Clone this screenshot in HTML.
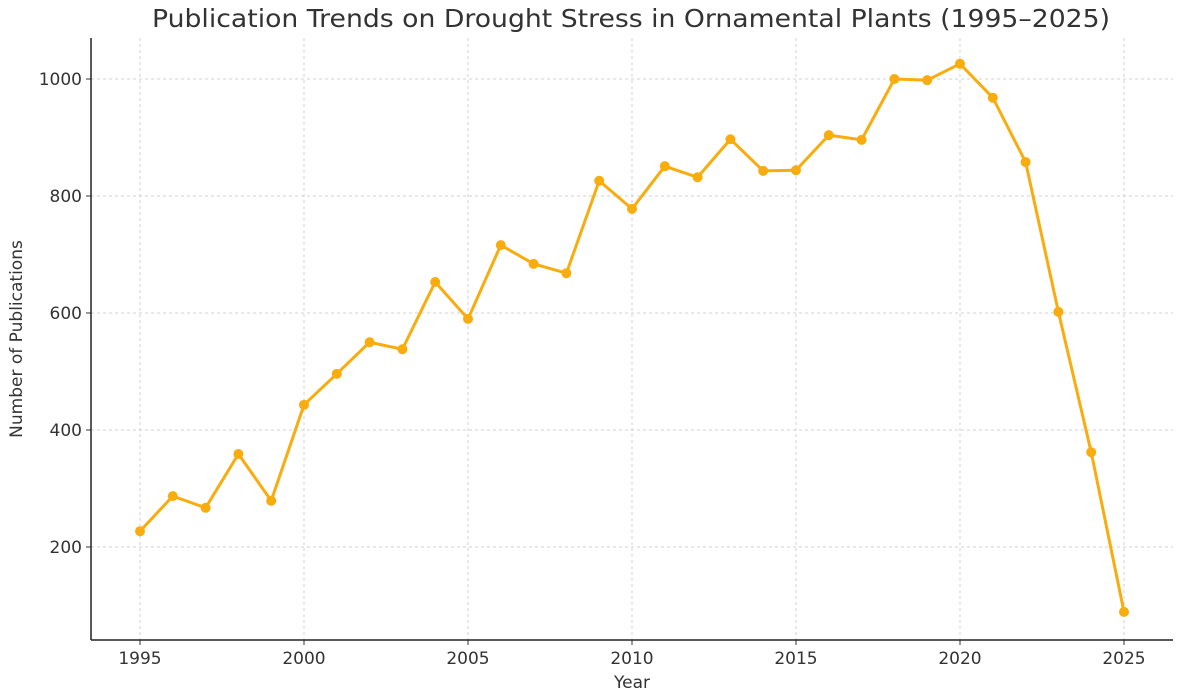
<!DOCTYPE html>
<html><head><meta charset="utf-8"><style>
html,body{margin:0;padding:0;background:#fff;}
svg text{font-family:"DejaVu Sans","Liberation Sans",sans-serif;fill:#333;}
</style></head><body>
<svg id="chart" width="1181" height="695" viewBox="0 0 1181 695">
<text x="631" y="27" text-anchor="middle" font-size="25" textLength="958" lengthAdjust="spacingAndGlyphs">Publication Trends on Drought Stress in Ornamental Plants (1995–2025)</text>
<g id="grid"></g><g id="axes"></g><g id="series"></g>
<text x="632" y="688" text-anchor="middle" font-size="17">Year</text>
<text transform="translate(22,339) rotate(-90)" text-anchor="middle" font-size="17">Number of Publications</text>
</svg>
<script>
const years=[1995,1996,1997,1998,1999,2000,2001,2002,2003,2004,2005,2006,2007,2008,2009,2010,2011,2012,2013,2014,2015,2016,2017,2018,2019,2020,2021,2022,2023,2024,2025];
const publications=[227,287,267,359,279,443,496,550,538,653,590,716,684,668,826,778,851,832,897,843,844,904,896,1000,998,1026,968,858,602,362,89];
const xTicks=[1995,2000,2005,2010,2015,2020,2025];
const yTicks=[200,400,600,800,1000];
const NS="http://www.w3.org/2000/svg";
const L=91,R=1173,T=38,B=640;
function xs(v){return 140+(v-1995)*(1124-140)/30;}
function ys(v){return 547-(v-200)*0.585;}
function mk(tag,attrs,parent){const e=document.createElementNS(NS,tag);for(const k in attrs)e.setAttribute(k,attrs[k]);parent.appendChild(e);return e;}
const grid=document.getElementById('grid'),axes=document.getElementById('axes'),ser=document.getElementById('series');
xTicks.forEach(t=>{
 const g=mk('line',{x1:xs(t),x2:xs(t),y1:T,y2:B,stroke:'#d0d0d0','stroke-dasharray':'3,3','stroke-width':1},grid);
 
 
 mk('line',{x1:xs(t),x2:xs(t),y1:B,y2:B+5,stroke:'#333'},axes);
 const tx=mk('text',{x:xs(t),y:B+24,'text-anchor':'middle','font-size':17},axes);tx.textContent=t;
 
 
});
yTicks.forEach(t=>{
 const g=mk('line',{x1:L,x2:R,y1:ys(t),y2:ys(t),stroke:'#d0d0d0','stroke-dasharray':'3,3','stroke-width':1},grid);
 
 
 mk('line',{x1:L-5,x2:L,y1:ys(t),y2:ys(t),stroke:'#333'},axes);
 const tx=mk('text',{x:L-9,y:ys(t)+6,'text-anchor':'end','font-size':17},axes);tx.textContent=t;
 
 
});
const ya=mk('line',{x1:L,x2:L,y1:T,y2:B,stroke:'#222','stroke-width':1.5},axes);


const xa=mk('line',{x1:L,x2:R,y1:B,y2:B,stroke:'#222','stroke-width':1.5},axes);


const pts=years.map((y,i)=>xs(y)+','+ys(publications[i])).join(' ');
const pl=mk('polyline',{points:pts,fill:'none',stroke:'#f9ac0d','stroke-width':3,'stroke-linejoin':'round'},ser);


years.forEach((y,i)=>{
 const c=mk('circle',{cx:xs(y),cy:ys(publications[i]),r:5,fill:'#f9ac0d'},ser);
 
 
});
</script>
</body></html>
